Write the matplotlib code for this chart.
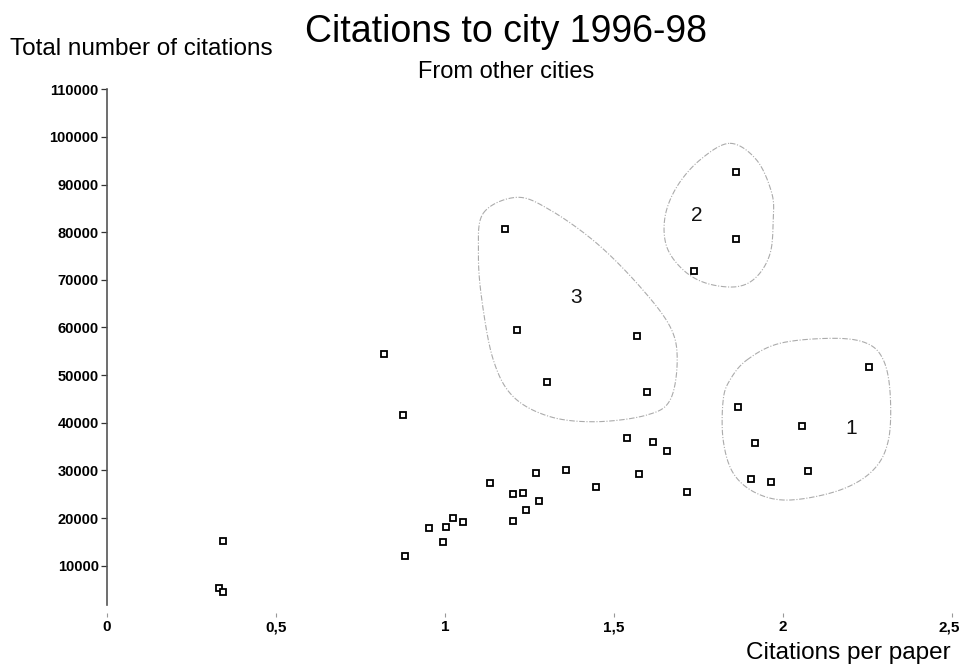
import numpy as np
import matplotlib
matplotlib.use("Agg")
import matplotlib.pyplot as plt
from matplotlib.transforms import ScaledTranslation

plt.rcParams['font.family'] = ['Liberation Sans', 'DejaVu Sans']

# Citations per paper (x) and total citations from other cities (y), one entry per city
cites_per_paper = [0.344, 0.332, 0.344, 0.820, 0.875, 0.883,
                   0.953, 0.993, 1.002, 1.023, 1.052, 1.133,
                   1.202, 1.202, 1.230, 1.240, 1.269, 1.279,
                   1.358, 1.447, 1.538, 1.575, 1.616, 1.656, 1.715,
                   # cluster 3
                   1.178, 1.214, 1.569, 1.301, 1.597,
                   # cluster 2
                   1.860, 1.860, 1.738,
                   # cluster 1
                   2.255, 1.866, 2.056, 1.917, 2.073, 1.904, 1.964]
total_citations = [15180, 5370, 4400, 54500, 41690, 12030,
                   17970, 14900, 18180, 20070, 19230, 27290,
                   24970, 19440, 25320, 21680, 29520, 23570,
                   30080, 26580, 36800, 29240, 35890, 34070, 25530,
                   80600, 59400, 58200, 48550, 46450,
                   92630, 78500, 71850,
                   51760, 43370, 39380, 35810, 29810, 28130, 27500]

# Hand-drawn cluster outlines (control points in data units) and their labels
cluster_names = ["1", "2", "3"]
cluster_label_x = [2.203, 1.746, 1.388]
cluster_label_y = [38830, 83600, 66330]
outline_1_x = [1.893, 1.991, 2.149, 2.248, 2.297, 2.317, 2.312, 2.267,
               2.169, 2.021, 1.922, 1.853, 1.823, 1.823, 1.843]
outline_1_y = [53170, 56680, 57730, 56680, 53170, 46180, 36380, 30080,
               25880, 23780, 25190, 29390, 36380, 44770, 48970]
outline_2_x = [1.843, 1.922, 1.967, 1.971, 1.962, 1.922, 1.863, 1.774,
               1.705, 1.656, 1.651, 1.686, 1.754]
outline_2_y = [98660, 95150, 88160, 82560, 75570, 70650, 68560, 69270,
               72060, 76950, 83250, 89550, 95150]
outline_3_x = [1.113, 1.212, 1.311, 1.449, 1.577, 1.666, 1.687, 1.666,
               1.597, 1.449, 1.311, 1.202, 1.143, 1.109, 1.099]
outline_3_y = [83960, 87320, 84660, 77670, 68560, 60160, 53170, 44770,
               41620, 40220, 41270, 45470, 53170, 65770, 75570]

x_ticks = [0, 0.5, 1, 1.5, 2, 2.5]
x_tick_labels = ["0", "0,5", "1", "1,5", "2", "2,5"]
y_ticks = list(range(10000, 110001, 10000))
y_tick_labels = [str(v) for v in y_ticks]


def closed_spline(px, py, n=40):
    """Smooth closed Catmull-Rom curve through the given points."""
    p = np.column_stack([px, py]).astype(float)
    m = len(p)
    out = []
    for i in range(m):
        p0, p1, p2, p3 = p[(i - 1) % m], p[i], p[(i + 1) % m], p[(i + 2) % m]
        t = np.linspace(0, 1, n, endpoint=False)[:, None]
        seg = 0.5 * ((2 * p1) + (-p0 + p2) * t
                     + (2 * p0 - 5 * p1 + 4 * p2 - p3) * t ** 2
                     + (-p0 + 3 * p1 - 3 * p2 + p3) * t ** 3)
        out.append(seg)
    out = np.vstack(out + [p[:1]])
    return out[:, 0], out[:, 1]


fig = plt.figure(figsize=(9.6, 6.72), dpi=100)
ax = fig.add_axes([107 / 960, (672 - 613.3) / 672, 845 / 960, 524 / 672])
ax.set_xlim(0, 2.5)
ax.set_ylim(0, 110000)

for ox, oy in [(outline_1_x, outline_1_y), (outline_2_x, outline_2_y),
               (outline_3_x, outline_3_y)]:
    sx, sy = closed_spline(ox, oy)
    ax.plot(sx, sy, color='#ababab', lw=0.8, linestyle=(0, (5, 1.5, 1, 1.5)),
            zorder=2)

for name, lx, ly in zip(cluster_names, cluster_label_x, cluster_label_y):
    ax.text(lx, ly, name, fontsize=15, ha='center', va='center', color='#111111')

ax.plot(cites_per_paper, total_citations, linestyle='none', marker='s',
        markersize=5, markerfacecolor='white', markeredgecolor='black',
        markeredgewidth=1.3, zorder=3)

for side in ['top', 'right', 'bottom']:
    ax.spines[side].set_visible(False)
ax.spines['left'].set_bounds(1700, 110000)
ax.spines['left'].set_color('#555555')
ax.spines['left'].set_linewidth(1.2)

ax.set_yticks(y_ticks)
ax.set_yticklabels(y_tick_labels, fontsize=10.5, fontweight='bold')
ax.tick_params(axis='y', direction='out', length=4, width=0.9, colors='#333333',
               labelcolor='black', pad=2)
ax.set_xticks(x_ticks)
ax.set_xticklabels(x_tick_labels, fontsize=11, fontweight='bold')
ax.tick_params(axis='x', direction='out', length=3, width=0.8, colors='#999999',
               labelcolor='black', pad=2)
# keep the last tick label inside the figure edge
last = ax.get_xticklabels()[-1]
last.set_transform(last.get_transform()
                   + ScaledTranslation(-3 / 100, 0, fig.dpi_scale_trans))

fig.text(506 / 960, 1 - 42 / 672, "Citations to city 1996-98", fontsize=27,
         ha='center', va='baseline')
fig.text(506 / 960, 1 - 78 / 672, "From other cities", fontsize=17,
         ha='center', va='baseline')
fig.text(10 / 960, 1 - 55 / 672, "Total number of citations", fontsize=17.5,
         ha='left', va='baseline')
fig.text(951 / 960, 1 - 659 / 672, "Citations per paper", fontsize=17.5,
         ha='right', va='baseline')

fig.savefig("out.png", dpi=100, facecolor='white')
